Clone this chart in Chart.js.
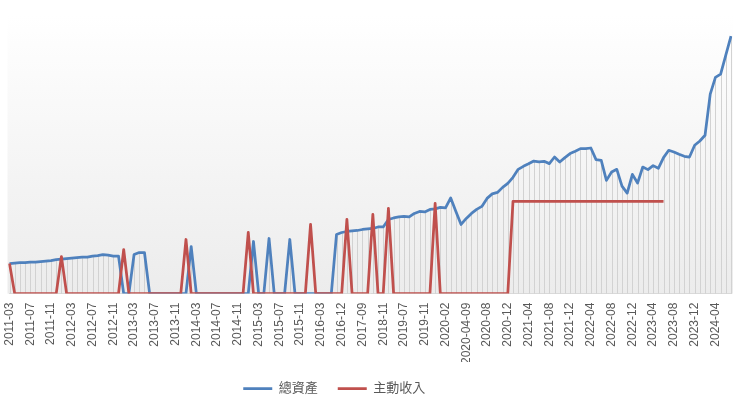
<!DOCTYPE html>
<html>
<head>
<meta charset="utf-8">
<script src="https://cdn.jsdelivr.net/npm/chart.js@4.4.1/dist/chart.umd.min.js"></script>
<style>
  html, body { margin: 0; padding: 0; background: #ffffff; }
  #wrap { width: 740px; height: 405px; position: relative; }
</style>
</head>
<body>
<div id="wrap"><canvas id="chart"></canvas></div>
<script>
/* ===== categories (label shown on every 4th) ===== */
const categories = [
  '2011-03','2011-04','2011-05','2011-06','2011-07','2011-08','2011-09','2011-10','2011-11','2011-12',
  '2012-01','2012-02','2012-03','2012-04','2012-05','2012-06','2012-07','2012-08','2012-09','2012-10',
  '2012-11','2012-12','2013-01','2013-02','2013-03','2013-04','2013-05','2013-06','2013-07','2013-08',
  '2013-09','2013-10','2013-11','2013-12','2014-01','2014-02','2014-03','2014-04','2014-05','2014-06',
  '2014-07','2014-08','2014-09','2014-10','2014-11','2014-12','2015-01','2015-02','2015-03','2015-04',
  '2015-05','2015-06','2015-07','2015-08','2015-09','2015-10','2015-11','2015-12','2016-01','2016-02',
  '2016-03','2016-05','2016-07','2016-09','2016-12','2017-02','2017-04','2017-06','2017-09','2017-12',
  '2018-03','2018-07','2018-11','2019-01','2019-03','2019-05','2019-07','2019-08','2019-09','2019-10',
  '2019-11','2019-12','2020-01','2020-01-20','2020-02','2020-03','2020-03-16','2020-03-23','2020-04-09','2020-05',
  '2020-06','2020-07','2020-08','2020-09','2020-10','2020-11','2020-12','2021-01','2021-02','2021-03',
  '2021-04','2021-05','2021-06','2021-07','2021-08','2021-09','2021-10','2021-11','2021-12','2022-01',
  '2022-02','2022-03','2022-04','2022-05','2022-06','2022-07','2022-08','2022-09','2022-10','2022-11',
  '2022-12','2023-01','2023-02','2023-03','2023-04','2023-05','2023-06','2023-07','2023-08','2023-09',
  '2023-10','2023-11','2023-12','2024-01','2024-02','2024-03','2024-04','2024-05','2024-06','2024-07'
];

/* ===== 總資產 ===== */
const totalAssets = [
  30, 30.5, 31, 31, 31.5, 31.5, 32, 32.5, 33, 34,
  34.5, 35, 35.5, 36, 36.5, 36.5, 37.5, 38, 39, 38.5,
  37.5, 37.5, 0, 0, 39, 41, 41, 0, 0, 0,
  0, 0, 0, 0, 0, 47, 0, 0, 0, 0,
  0, 0, 0, 0, 0, 0, 0, 52, 0, 0,
  55, 0, 0, 0, 54, 0, 0, 0, 0, 0,
  0, 0, 0, 59, 61, 62, 62.5, 63, 64, 64.5,
  65, 66.5, 66.5, 74, 75.5, 76.5, 77, 76.5, 80, 82,
  81.5, 84, 84.5, 86, 85.5, 95.5, 82, 69, 75, 80,
  84, 87, 95, 99.5, 101, 106, 110, 116, 124, 127,
  129.5, 132.3, 131.5, 132, 129.7, 136.3, 131.3, 135.7, 139.7, 142,
  144.7, 144.7, 145.3, 133.7, 133, 113, 121.3, 124, 107.3, 100.3,
  119, 110.3, 126.3, 123.7, 127.7, 125, 135.7, 143, 141.3, 139,
  137, 136.3, 148, 152.3, 158, 199, 215.7, 219, 238, 257
];

/* ===== 主動收入 ===== */
const activeIncome = [
  30, 0, 0, 0, 0, 0, 0, 0, 0, 0,
  37, 0, 0, 0, 0, 0, 0, 0, 0, 0,
  0, 0, 44, 0, 0, 0, 0, 0, 0, 0,
  0, 0, 0, 0, 54, 0, 0, 0, 0, 0,
  0, 0, 0, 0, 0, 0, 61, 0, 0, 0,
  0, 0, 0, 0, 0, 0, 0, 0, 69, 0,
  0, 0, 0, 0, 0, 74, 0, 0, 0, 0,
  79, 0, 0, 85, 0, 0, 0, 0, 0, 0,
  0, 0, 90, 0, 0, 0, 0, 0, 0, 0,
  0, 0, 0, 0, 0, 0, 0, 92, 92, 92,
  92, 92, 92, 92, 92, 92, 92, 92, 92, 92,
  92, 92, 92, 92, 92, 92, 92, 92, 92, 92,
  92, 92, 92, 92, 92, 92, 92, null, null, null,
  null, null, null, null, null, null, null, null, null, null
];

const BLUE = '#4f81bd';
const RED = '#c0504d';
const FONT = "'Liberation Sans', 'Noto Sans CJK TC', sans-serif";

/* fondo degradado del área de trazado */
const plotBackground = {
  id: 'plotBackground',
  beforeDraw(chart) {
    const { ctx, chartArea: a } = chart;
    const g = ctx.createLinearGradient(0, a.top, 0, a.bottom);
    g.addColorStop(0, '#ffffff');
    g.addColorStop(1, '#ececec');
    ctx.save();
    ctx.fillStyle = g;
    ctx.fillRect(a.left - 2, a.top, a.right - a.left + 4, a.bottom - a.top);
    ctx.restore();
  }
};

/* líneas de proyección (drop lines) desde 總資產 */
const dropLines = {
  id: 'dropLines',
  beforeDatasetsDraw(chart) {
    const { ctx, scales } = chart;
    const meta = chart.getDatasetMeta(0);
    const base = scales.y.getPixelForValue(0);
    ctx.save();
    ctx.strokeStyle = '#d2d2d2';
    ctx.lineWidth = 1;
    meta.data.forEach((pt, i) => {
      if (!totalAssets[i]) return;
      const x = Math.round(pt.x) + 0.5;
      ctx.beginPath();
      ctx.moveTo(x, pt.y);
      ctx.lineTo(x, base);
      ctx.stroke();
    });
    ctx.restore();
  }
};

/* la leyenda del original no está centrada: se corre a la izquierda */
const legendShift = {
  id: 'legendShift',
  afterLayout(chart) {
    const lg = chart.legend;
    if (!lg) return;
    lg.left -= 36;
    lg.right -= 36;
  }
};

new Chart(document.getElementById('chart'), {
  type: 'line',
  data: {
    labels: categories,
    datasets: [
      {
        label: '總資產',
        data: totalAssets,
        borderColor: BLUE,
        backgroundColor: BLUE,
        borderWidth: 2.75,
        borderJoinStyle: 'round',
        pointRadius: 0,
        tension: 0,
        order: 2
      },
      {
        label: '主動收入',
        data: activeIncome,
        borderColor: RED,
        backgroundColor: RED,
        borderWidth: 2.75,
        borderJoinStyle: 'round',
        pointRadius: 0,
        tension: 0,
        order: 1
      }
    ]
  },
  options: {
    responsive: true,
    maintainAspectRatio: false,
    animation: false,
    layout: { padding: { top: 15, left: 9.5, right: 9, bottom: 0 } },
    plugins: {
      tooltip: { enabled: false },
      legend: {
        position: 'bottom',
        labels: {
          usePointStyle: true,
          pointStyle: 'line',
          pointStyleWidth: 29,
          boxHeight: 13,
          padding: 20,
          color: '#595959',
          font: { family: FONT, size: 13 },
          sort: (a, b) => a.datasetIndex - b.datasetIndex
        }
      }
    },
    scales: {
      x: {
        grid: { display: false, drawTicks: false },
        border: { display: true, color: '#d9d9d9', width: 1 },
        ticks: {
          autoSkip: false,
          minRotation: 90,
          maxRotation: 90,
          padding: 9,
          color: '#595959',
          font: { family: FONT, size: 12 },
          callback: (v, i) => (i % 4 === 0 ? categories[i] : '')
        },
        afterFit(scale) {
          // las etiquetas largas pueden invadir la zona de la leyenda
          scale.height -= 11;
          scale.paddingLeft = 0;
          scale.paddingRight = 0;
        }
      },
      y: {
        display: false,
        min: 0,
        max: 278
      }
    }
  },
  plugins: [plotBackground, dropLines, legendShift]
});
</script>
</body>
</html>
